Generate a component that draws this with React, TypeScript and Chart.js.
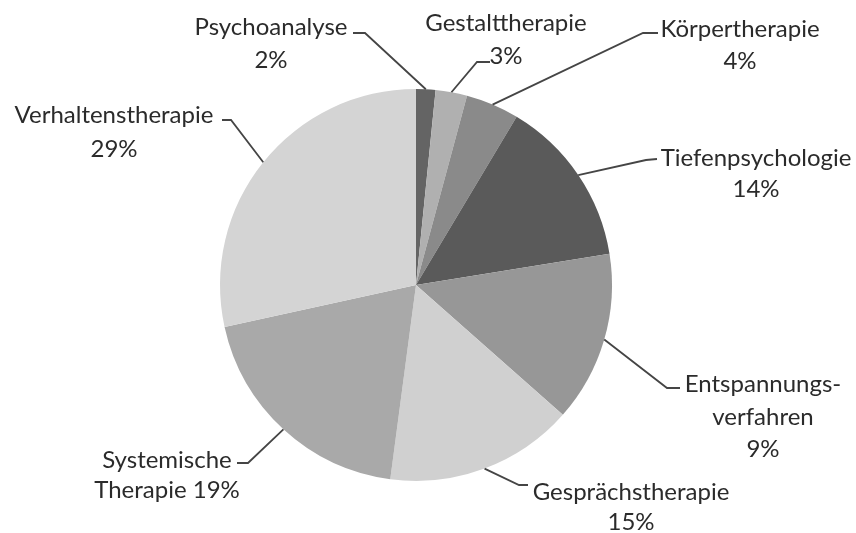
import React, { useEffect, useRef } from "react";
import { Chart, registerables } from "chart.js";

Chart.register(...registerables);

// ---- data ----
const categories = [
  "Psychoanalyse",
  "Gestalttherapie",
  "Körpertherapie",
  "Tiefenpsychologie",
  "Entspannungsverfahren",
  "Gesprächstherapie",
  "Systemische Therapie",
  "Verhaltenstherapie",
];
// slice sizes as drawn in the picture
const values = [1.6, 2.6, 4.4, 13.9, 14.1, 15.6, 19.5, 28.5];
// percentages printed on the labels
const percentLabels = ["2%", "3%", "4%", "14%", "9%", "15%", "19%", "29%"];
// text lines of each label
const labelLines: string[][] = [
  ["Psychoanalyse", percentLabels[0]],
  ["Gestalttherapie", percentLabels[1]],
  ["Körpertherapie", percentLabels[2]],
  ["Tiefenpsychologie", percentLabels[3]],
  ["Entspannungs-", "verfahren", percentLabels[4]],
  ["Gesprächstherapie", percentLabels[5]],
  ["Systemische", "Therapie " + percentLabels[6]],
  ["Verhaltenstherapie", percentLabels[7]],
];

// ---- styles / layout ----
const sliceColors = [
  "#646464",
  "#b0b0b0",
  "#8a8a8a",
  "#5a5a5a",
  "#979797",
  "#d0d0d0",
  "#a9a9a9",
  "#d4d4d4",
];
// label layout: text centre x, baselines, leader anchor at text, elbow
const labelLayout = [
  { cx: 271, base: [35, 68], ax: 353, ay: 33, ex: 365, ey: 33 },
  { cx: 506, base: [31, 64], ax: 490, ay: 62, ex: 477, ey: 62 },
  { cx: 740, base: [37, 69], ax: 658, ay: 33, ex: 643, ey: 33 },
  { cx: 756, base: [166, 197], ax: 657, ay: 159, ex: 646, ey: 160 },
  { cx: 763, base: [392, 425, 457], ax: 680, ay: 388, ex: 667, ey: 388 },
  { cx: 631, base: [500, 530], ax: 528, ay: 485, ex: 519, ey: 485 },
  { cx: 167, base: [468, 498], ax: 237, ay: 463, ex: 248, ey: 463 },
  { cx: 114, base: [123, 157], ax: 222, ay: 120, ex: 231, ey: 120 },
];

const FONT = "24px Lato";

const leaderLabels = {
  id: "leaderLabels",
  afterDatasetsDraw(chart: any) {
    const ctx = chart.ctx as CanvasRenderingContext2D;
    const meta = chart.getDatasetMeta(0);
    ctx.save();
    meta.data.forEach((arc: any, i: number) => {
      const p = arc.getProps(["x", "y", "startAngle", "endAngle", "outerRadius"], true);
      const mid = (p.startAngle + p.endAngle) / 2;
      const px = p.x + Math.cos(mid) * p.outerRadius;
      const py = p.y + Math.sin(mid) * p.outerRadius;
      const L = labelLayout[i];
      ctx.beginPath();
      ctx.strokeStyle = "#454545";
      ctx.lineWidth = 1.8;
      ctx.lineJoin = "miter";
      ctx.moveTo(px, py);
      ctx.lineTo(L.ex, L.ey);
      ctx.lineTo(L.ax, L.ay);
      ctx.stroke();
      ctx.fillStyle = "#2b2b2b";
      ctx.font = FONT;
      ctx.textAlign = "center";
      ctx.textBaseline = "alphabetic";
      labelLines[i].forEach((line, j) => {
        ctx.fillText(line, L.cx, L.base[j]);
      });
    });
    ctx.restore();
  },
};

export default function App() {
  const ref = useRef<HTMLCanvasElement | null>(null);
  useEffect(() => {
    if (!ref.current) return;
    const chart = new Chart(ref.current, {
      type: "pie",
      data: {
        labels: categories,
        datasets: [
          {
            data: values,
            backgroundColor: sliceColors,
            borderWidth: 0,
          },
        ],
      },
      options: {
        animation: false,
        responsive: true,
        maintainAspectRatio: false,
        layout: { padding: { left: 0, right: 24, top: 89, bottom: 52 } },
        plugins: {
          legend: { display: false },
          tooltip: { enabled: false },
        },
      },
      plugins: [leaderLabels],
    });
    return () => chart.destroy();
  }, []);
  return (
    <div
      style={{
        position: "fixed",
        left: 0,
        top: 0,
        width: 856,
        height: 533,
        background: "#ffffff",
      }}
    >
      <canvas ref={ref} />
    </div>
  );
}
